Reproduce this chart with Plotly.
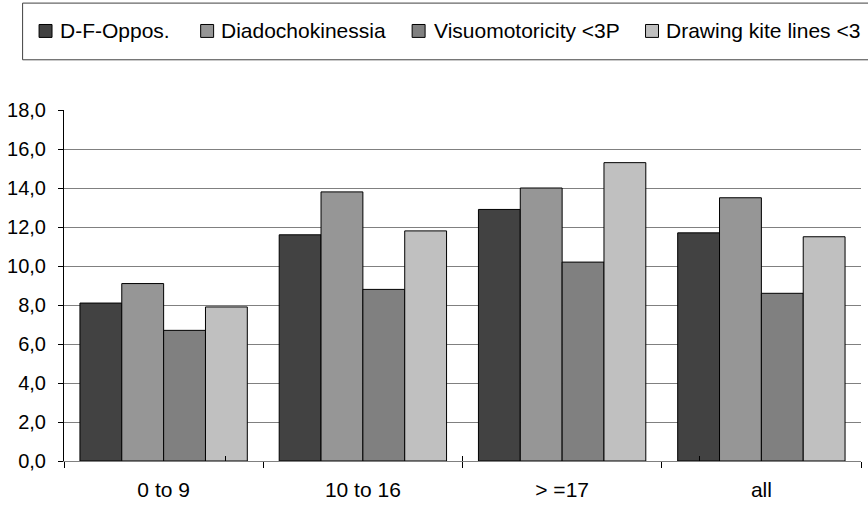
import plotly.graph_objects as go

# Age groups and mean scores per test
groups = ["0 to 9", "10 to 16", "> =17", "all"]
series_names = ["D-F-Oppos.", "Diadochokinessia", "Visuomotoricity <3P", "Drawing kite lines <3"]
df_oppos = [8.1, 11.6, 12.9, 11.7]
diadocho = [9.1, 13.8, 14.0, 13.5]
visuomot = [6.7, 8.8, 10.2, 8.6]
kite_lines = [7.9, 11.8, 15.3, 11.5]
series_values = [df_oppos, diadocho, visuomot, kite_lines]
series_colors = ["#424242", "#969696", "#808080", "#c0c0c0"]

y_ticks = [0, 2, 4, 6, 8, 10, 12, 14, 16, 18]

FONT = "Liberation Sans, Arial, sans-serif"
W, H = 868, 508
ML, MR, MT, MB = 62, 7, 110, 45
PW, PH = W - ML - MR, H - MT - MB


def px_x(p):
    return (p - ML) / PW


def px_y(p):
    return (H - MB - p) / PH


fig = go.Figure()
for name, vals, col in zip(series_names, series_values, series_colors):
    fig.add_trace(go.Bar(
        x=groups, y=vals, name=name,
        marker=dict(color=col, line=dict(color="#000000", width=1)),
        showlegend=False,
    ))

# small inward tick marks at the category boundaries
fig.add_trace(go.Scatter(x=groups, y=[None] * 4, xaxis="x2", showlegend=False,
                         hoverinfo="skip"))

# boxed legend across the top
shapes = [dict(type="rect", xref="paper", yref="paper",
               x0=px_x(20.5), x1=px_x(920), y0=px_y(2.5), y1=px_y(59.5),
               line=dict(color="#404040", width=1), fillcolor="rgba(0,0,0,0)")]
annotations = []
sq_x = [37, 199, 411, 645]
txt_x = [56, 217, 431, 664]
for sx, tx, name, col in zip(sq_x, txt_x, series_names, series_colors):
    shapes.append(dict(type="rect", xref="paper", yref="paper",
                       x0=px_x(sx), x1=px_x(sx + 13), y0=px_y(24), y1=px_y(37),
                       line=dict(color="#000000", width=1), fillcolor=col))
    annotations.append(dict(text=name, xref="paper", yref="paper",
                            x=px_x(tx), y=px_y(30.5), xanchor="left", yanchor="middle",
                            showarrow=False, font=dict(family=FONT, size=21, color="#000000")))

fig.update_layout(
    width=W, height=H,
    margin=dict(l=ML, r=MR, t=MT, b=MB, pad=0),
    paper_bgcolor="#ffffff", plot_bgcolor="#ffffff",
    barmode="group", bargap=0.16, bargroupgap=0,
    separators=", ",
    font=dict(family=FONT, size=20, color="#000000"),
    shapes=shapes, annotations=annotations,
    xaxis=dict(
        type="category", categoryorder="array", categoryarray=groups,
        showline=True, linecolor="#808080", linewidth=1,
        ticks="outside", tickson="boundaries", ticklen=6, tickcolor="#000000", tickwidth=1,
        showgrid=False, zeroline=False,
        tickfont=dict(family=FONT, size=21, color="#000000"),
        ticklabelstandoff=10,
    ),
    xaxis2=dict(
        type="category", categoryorder="array", categoryarray=groups,
        overlaying="x", anchor="y", side="bottom",
        ticks="inside", tickson="boundaries", ticklen=5, tickcolor="#000000", tickwidth=1,
        showticklabels=False, showgrid=False, zeroline=False, showline=False,
    ),
    yaxis=dict(
        range=[0, 18], tickvals=y_ticks, tickformat=".1f",
        showline=True, linecolor="#000000", linewidth=1,
        ticks="outside", ticklen=5, tickcolor="#000000", tickwidth=1,
        showgrid=True, gridcolor="#808080", gridwidth=1,
        zeroline=False,
        tickfont=dict(family=FONT, size=20, color="#000000"),
        ticklabelstandoff=8,
    ),
)

fig.write_html("out.html")
